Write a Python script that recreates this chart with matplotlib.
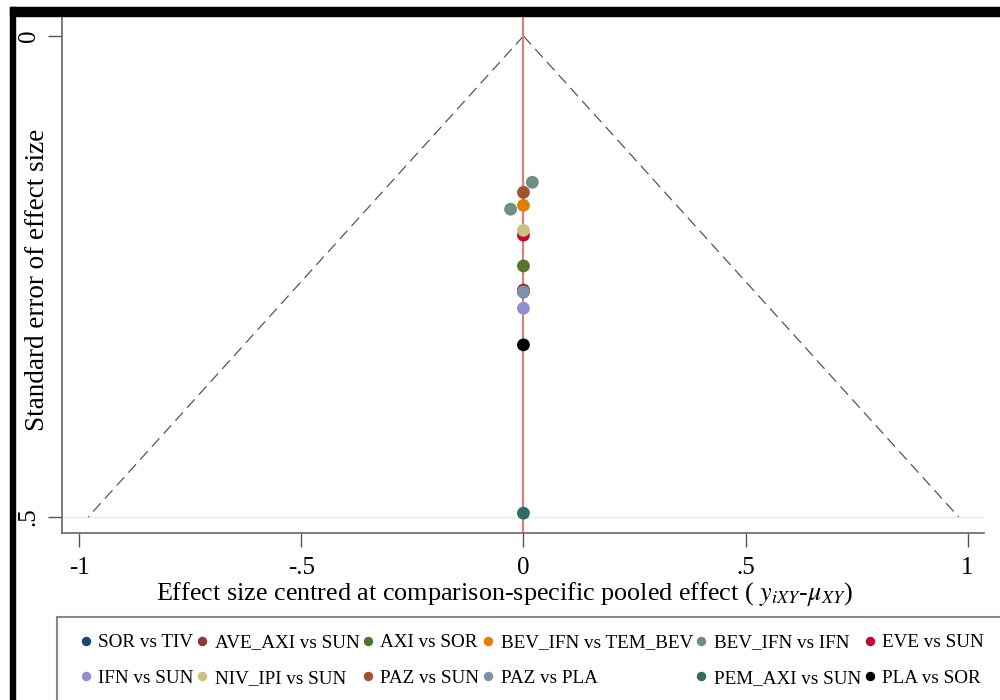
import matplotlib
matplotlib.use("Agg")
import matplotlib.pyplot as plt
from matplotlib.lines import Line2D
from matplotlib.patches import Rectangle

plt.rcParams['font.family'] = ['Liberation Serif', 'DejaVu Serif']
plt.rcParams['mathtext.fontset'] = 'stix'

# comparisons shown in the legend, with their colours
comparisons = ["SOR vs TIV", "AVE_AXI vs SUN", "AXI vs SOR", "BEV_IFN vs TEM_BEV",
               "BEV_IFN vs IFN", "EVE vs SUN", "IFN vs SUN", "NIV_IPI vs SUN",
               "PAZ vs SUN", "PAZ vs PLA", "PEM_AXI vs SUN", "PLA vs SOR"]
colors = ["#1a476f", "#90353b", "#55752f", "#e37e00", "#6e8e84", "#c10534",
          "#938dd2", "#cac27e", "#a0522d", "#7b92a8", "#2d6d66", "#000000"]

# study points: comparison index, centred effect, standard error
point_comp = [0, 1, 2, 3, 4, 4, 5, 6, 7, 8, 9, 10, 11]
point_x = [0.0, 0.0, 0.0, 0.0, 0.020, -0.029, 0.0, 0.0, 0.0, 0.0, 0.0, 0.0, 0.0]
point_se = [0.266, 0.264, 0.239, 0.176, 0.152, 0.180, 0.207, 0.283, 0.202,
            0.1625, 0.266, 0.496, 0.321]

xticks = [-1, -0.5, 0, 0.5, 1]
xticklabels = ["-1", "-.5", "0", ".5", "1"]
yticks = [0, 0.5]
yticklabels = ["0", ".5"]
se_max = 0.5

fig = plt.figure(figsize=(10, 7), dpi=100)
ax = fig.add_axes([0.062, 1 - 533 / 700, 0.922, (533 - 17) / 700])

ax.set_xlim(-1.039, 1.037)
ax.set_ylim(0.5166, -0.0198)

ax.axhline(se_max, color="#e3ebf0", lw=1, zorder=0)

ax.plot([0, -1.96 * se_max], [0, se_max], ls=(0, (9, 5)), color="#555555", lw=0.9, zorder=1)
ax.plot([0, 1.96 * se_max], [0, se_max], ls=(0, (9, 5)), color="#555555", lw=0.9, zorder=1)
ax.axvline(0, color="#e07b7b", lw=1.5, zorder=2)

for c, x, se in zip(point_comp, point_x, point_se):
    ax.scatter(x, se, s=85, color=colors[c], edgecolors="none", zorder=3 + c)

for s in ["top", "right"]:
    ax.spines[s].set_visible(False)
for s in ["left", "bottom"]:
    ax.spines[s].set_color("#666666")
    ax.spines[s].set_linewidth(1.2)

ax.set_xticks(xticks)
ax.set_xticklabels(xticklabels)
ax.set_yticks(yticks)
ax.set_yticklabels(yticklabels, rotation=90, va="center")
ax.tick_params(axis="both", labelsize=18, length=10, width=1, color="#555555")
ax.tick_params(axis="x", pad=7)
ax.tick_params(axis="y", pad=6)

fig.text(0.5045, 1 - 594 / 700,
         "Effect size centred at comparison-specific pooled effect ( $y_{iXY}$-$\\mu_{XY}$)",
         ha="center", va="center", fontsize=18.8)
fig.text(0.038, 1 - 280 / 700, "Standard error of effect size", rotation=90,
         ha="center", va="center", fontsize=19.5)

# legend: matplotlib fills columns first, so reorder to read row by row
ncol = 6
handles = [Line2D([], [], ls="none", marker="o", markersize=6.8, color=col,
                  markeredgewidth=0) for col in colors]
order = []
for j in range(ncol):
    order += [j, j + ncol]
leg = fig.legend([handles[i] for i in order], [comparisons[i] for i in order],
                 ncol=ncol, loc="upper left", bbox_to_anchor=(0.079, 1 - 634 / 700),
                 frameon=False, fontsize=13.8, handlelength=0.7, handletextpad=0.3,
                 columnspacing=0.1, borderaxespad=0, labelspacing=0.95,
                 borderpad=0)

fig.patches.append(Rectangle((57 / 1000, 1 - 720 / 700), 0.96, (720 - 617) / 700,
                             transform=fig.transFigure, fill=False,
                             edgecolor="#888888", lw=1.5))

# black frame along top and left edge
fig.patches.append(Rectangle((10 / 1000, 1 - 16 / 700), 0.99, 9 / 700,
                             transform=fig.transFigure, color="black"))
fig.patches.append(Rectangle((10 / 1000, 0), 5 / 1000, 1 - 7 / 700,
                             transform=fig.transFigure, color="black"))

fig.savefig("out.png", dpi=100)
